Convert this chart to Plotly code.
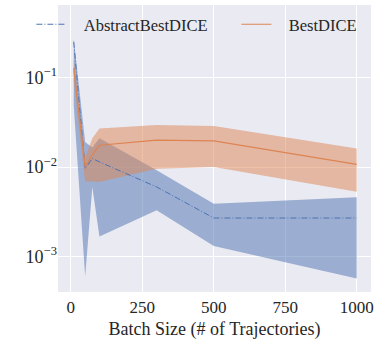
import plotly.graph_objects as go

batch_sizes = [10, 50, 75, 100, 300, 500, 1000]

abstract_mean = [0.25, 0.0096, 0.0125, 0.0114, 0.0060, 0.0027, 0.0027]
abstract_upper = [0.27, 0.019, 0.0165, 0.021, 0.0092, 0.0039, 0.0046]
abstract_lower = [0.049, 0.0006, 0.0060, 0.00168, 0.0033, 0.00132, 0.00057]

best_mean = [0.127, 0.0100, 0.0137, 0.0175, 0.0200, 0.0196, 0.0107]
best_upper = [0.16, 0.0126, 0.021, 0.027, 0.0295, 0.0288, 0.0161]
best_lower = [0.093, 0.0069, 0.0069, 0.0068, 0.0096, 0.0100, 0.0053]

x_ticks = [0, 250, 500, 750, 1000]
y_ticks = [0.001, 0.01, 0.1]
y_tick_labels = ["10<sup>−3</sup>", "10<sup>−2</sup>", "10<sup>−1</sup>"]

BLUE = "#4C72B0"
ORANGE = "#DD8452"
BLUE_FILL = "rgba(76,114,176,0.5)"
ORANGE_FILL = "rgba(221,132,82,0.5)"

fig = go.Figure()

# Blue band
fig.add_trace(go.Scatter(x=batch_sizes, y=abstract_lower, mode="lines",
                         line=dict(width=0), showlegend=False, hoverinfo="skip"))
fig.add_trace(go.Scatter(x=batch_sizes, y=abstract_upper, mode="lines",
                         line=dict(width=0), fill="tonexty", fillcolor=BLUE_FILL,
                         showlegend=False, hoverinfo="skip"))
# Orange band
fig.add_trace(go.Scatter(x=batch_sizes, y=best_lower, mode="lines",
                         line=dict(width=0), showlegend=False, hoverinfo="skip"))
fig.add_trace(go.Scatter(x=batch_sizes, y=best_upper, mode="lines",
                         line=dict(width=0), fill="tonexty", fillcolor=ORANGE_FILL,
                         showlegend=False, hoverinfo="skip"))
# Lines
fig.add_trace(go.Scatter(x=batch_sizes, y=abstract_mean, mode="lines",
                         name="\u00a0\u00a0\u00a0AbstractBestDICE", legend="legend",
                         line=dict(color=BLUE, width=1, dash="6px,2px,1px,2px")))
fig.add_trace(go.Scatter(x=batch_sizes, y=best_mean, mode="lines",
                         name="\u00a0\u00a0\u00a0BestDICE", legend="legend2",
                         line=dict(color=ORANGE, width=1.2)))

FONT = "Liberation Serif"
legend_common = dict(xanchor="left", yanchor="middle", bgcolor="rgba(0,0,0,0)",
                     font=dict(size=16.5, color="#262626"), itemwidth=30,
                     borderwidth=0)

fig.update_layout(
    width=379, height=345,
    margin=dict(l=58, r=8, t=5, b=53),
    paper_bgcolor="white",
    plot_bgcolor="#EAEAF2",
    font=dict(family=FONT, size=17, color="#262626"),
    legend=dict(x=-0.085, y=0.932, **legend_common),
    legend2=dict(x=0.57, y=0.932, **legend_common),
    xaxis=dict(range=[-45, 1050], tickvals=x_ticks, showgrid=True, gridcolor="white",
               gridwidth=1, zeroline=False, showline=False, ticks="",
               ticklabelstandoff=3,
               title=dict(text="Batch Size (# of Trajectories)", standoff=6,
                          font=dict(size=18)),
               tickfont=dict(size=17)),
    yaxis=dict(type="log", range=[-3.394, -0.192], tickvals=y_ticks,
               ticktext=y_tick_labels, showgrid=True, gridcolor="white", gridwidth=1,
               zeroline=False, showline=False, ticks="", tickfont=dict(size=18)),
)

fig.write_html("out.html", config={"displayModeBar": False},
               post_script="document.body.style.margin='0';document.body.style.overflow='hidden';")
